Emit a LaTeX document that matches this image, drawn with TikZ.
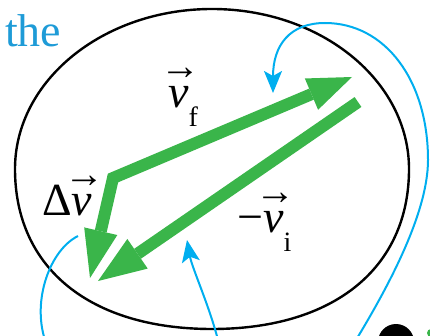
\documentclass[tikz,border=0pt]{standalone}
\usepackage{fontspec}
\setmainfont{Liberation Serif}
\usetikzlibrary{arrows.meta}
\definecolor{vgreen}{HTML}{3AB54A}
\definecolor{lblue}{HTML}{00AEEF}
\definecolor{tblue}{HTML}{1E9BD7}
\newcommand\arrv{{\itshape v}\llap{\makebox[20pt][c]{\hspace{4pt}\raisebox{28pt}{\fontsize{40}{40}\selectfont\upshape →}}}}
\newcommand\subx[1]{\raisebox{-19pt}{\fontsize{28}{30}\selectfont #1}}
\begin{document}
\begin{tikzpicture}[x=1pt,y=-1pt,
  vec/.style={draw=vgreen,line width=12pt,line join=miter},
  guide/.style={draw=lblue,line width=2pt},
  lbl/.style={inner sep=0pt,font=\fontsize{46}{50}\selectfont},
  ]
\useasboundingbox (0,0) rectangle (430,336);
% ellipse-like outline
\draw[line width=2.4pt] (15,169) .. controls (15,80.6) and (103.2,9) .. (212,9)
  .. controls (320.8,9) and (409,80.6) .. (409,169)
  .. controls (409,268) and (334,329) .. (212,329)
  .. controls (90,329) and (15,268) .. cycle;
% blue guide curves
\coordinate (b1) at (356,340);
\coordinate (r1) at (428,160);
\coordinate (t1) at (325,23);
\coordinate (a1) at (273,93);
\draw[guide,-{Stealth[length=22pt,width=18pt,inset=5pt]}] (b1)
  .. controls (385,292) and (428,215) .. (r1)
  .. controls (428,80) and (385,23) .. (t1)
  .. controls (290,23) and (273,45) .. (a1);
\coordinate (b2) at (218,340);
\coordinate (a2) at (187,240);
\draw[guide,-{Stealth[length=22pt,width=18pt,inset=5pt]}] (b2)
  .. controls (209,305) and (192,268) .. (a2);
\coordinate (s3) at (78,236);
\coordinate (b3) at (45,340);
\draw[guide] (s3) .. controls (50,250) and (32,300) .. (b3);
% green vectors
\coordinate (C) at (113,178);
\coordinate (vfT) at (352,77);
\coordinate (dvT) at (90,278);
\coordinate (viS) at (358,102);
\coordinate (viT) at (98,281);
\draw[vec,{Triangle[length=48pt,width=34pt,line width=0pt]}-{Triangle[length=44pt,width=34pt,line width=0pt]}] (dvT) -- (C) -- (vfT);
\draw[vec,-{Triangle[length=48pt,width=36pt,line width=0pt]}] (viS) -- (viT);
% partial marks at the lower right edge
\fill (396,342) circle[radius=18];
\fill[vgreen] (431,333) circle[radius=4];
% labels
\node[lbl,text=tblue,anchor=base west] (the) at (5,47) {the};
\node[lbl,anchor=base west] (vf) at (168,108) {\arrv\subx{f}};
\node[lbl,anchor=base west] (dv) at (42,215) {Δ\arrv};
\node[lbl,anchor=base west] (vi) at (237,233) {−\arrv\subx{i}};
\end{tikzpicture}
\end{document}
